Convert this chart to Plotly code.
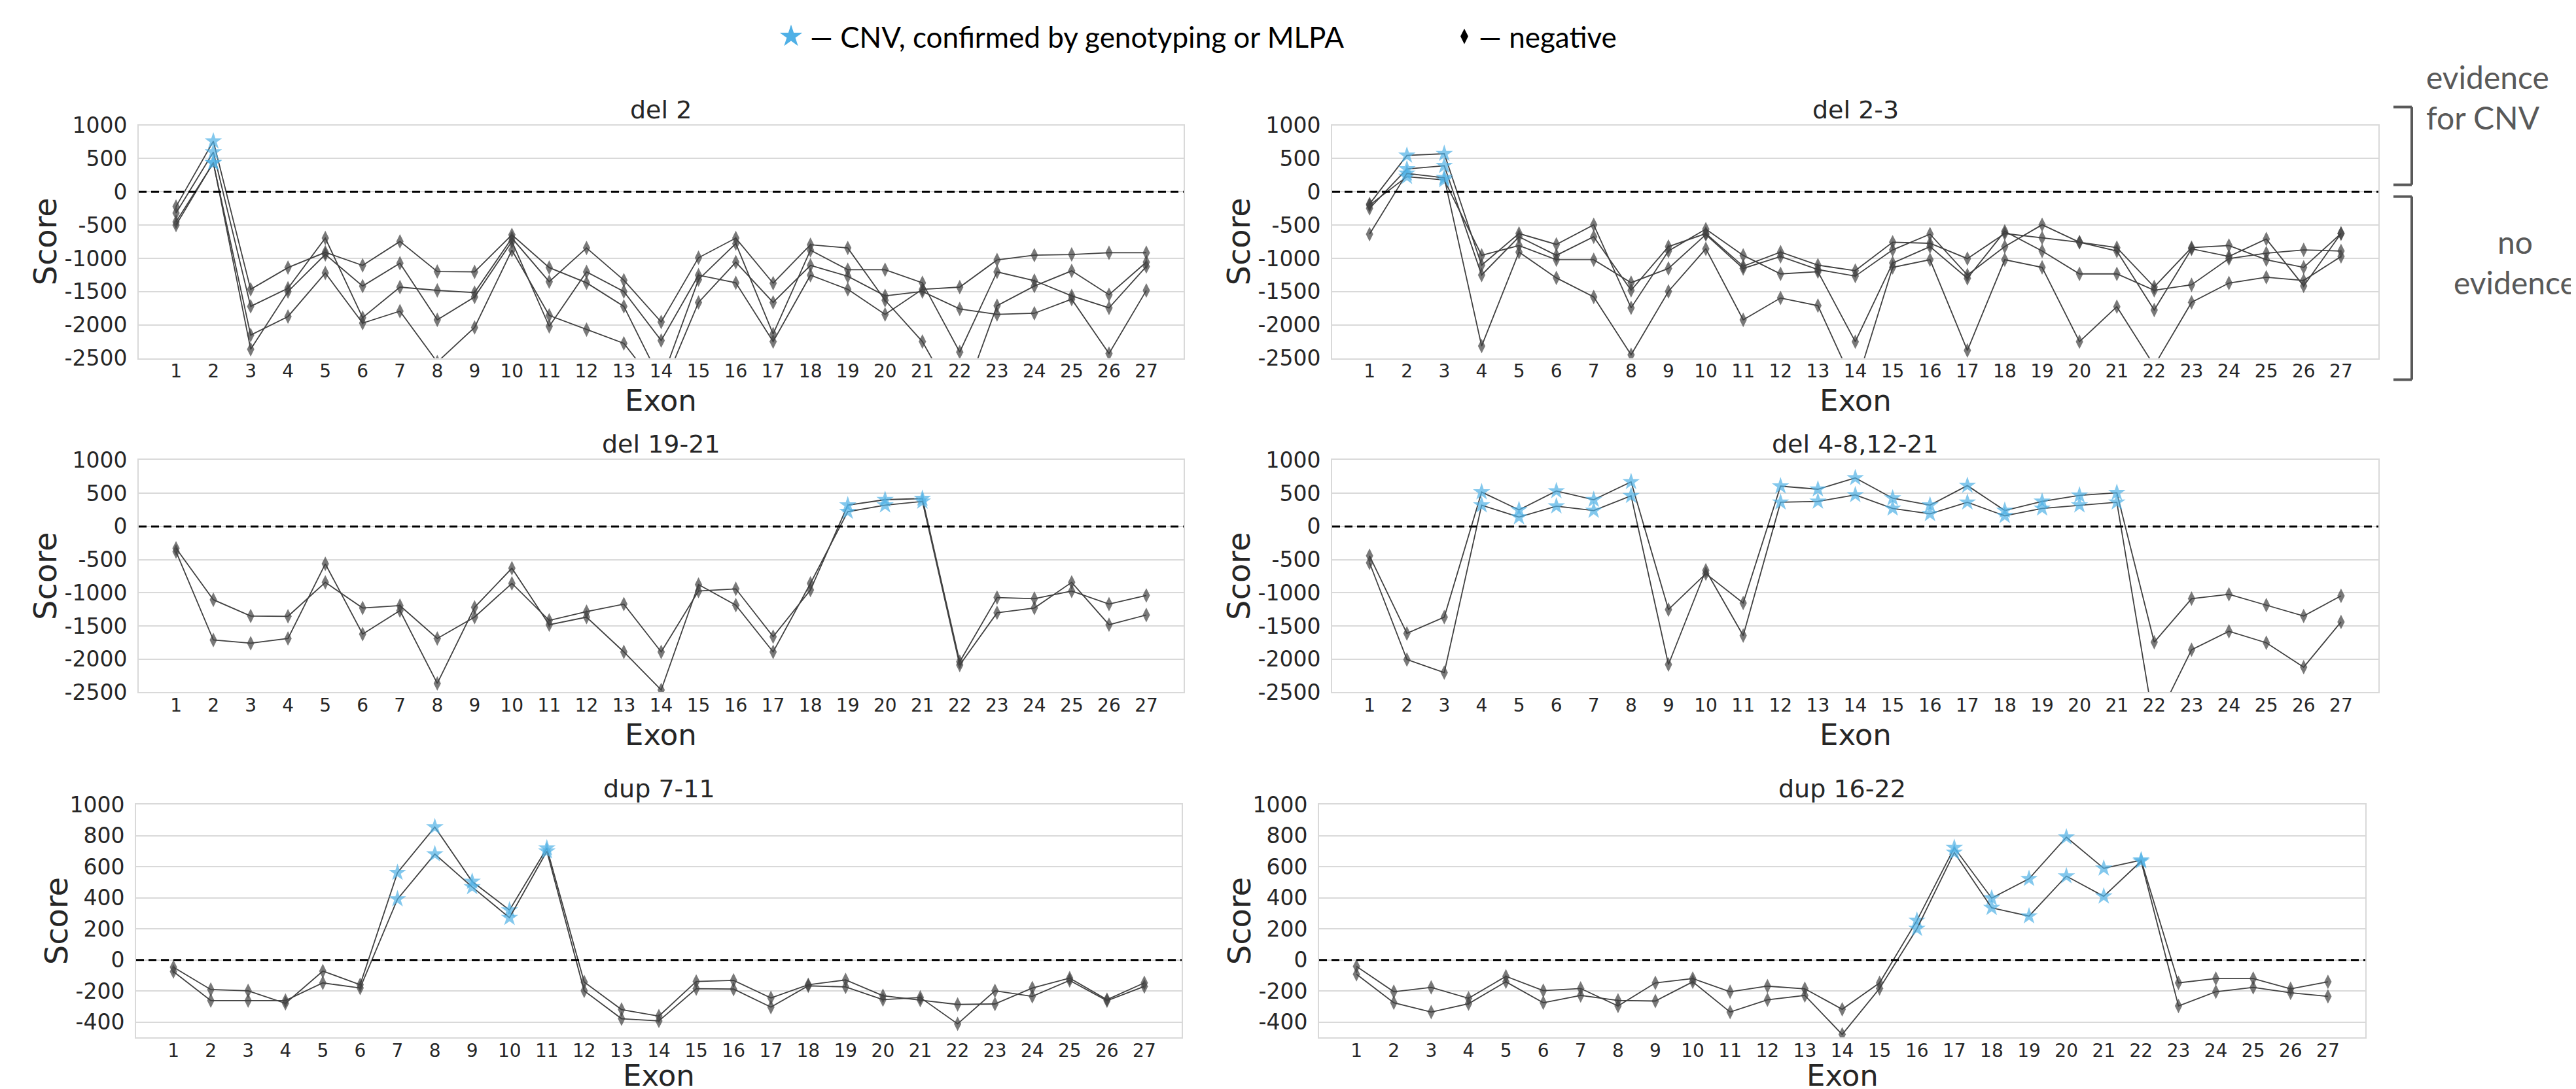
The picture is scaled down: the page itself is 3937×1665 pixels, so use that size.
import plotly.graph_objects as go

W, H = 3937, 1665

# ---------------- data ----------------
exons = list(range(1, 28))
exon_labels = [str(e) for e in exons]

# del 2 (4 samples)
del2_s1 = [-222, 761, -1466, -1139, -910, -1106, -746, -1198, -1204, -647, -1139, -1368, -1722, -2850, -1319, -778, -2138, -877, -1171, -1171, -1368, -2409, -1204, -1335, -1564, -1745, -1122]
del2_s2 = [-320, 597, -1722, -1450, -696, -1892, -1433, -1482, -1515, -696, -1351, -844, -1329, -1957, -991, -696, -1374, -795, -844, -1630, -2252, -3250, -1712, -1417, -1188, -1548, -1057]
del2_s3 = [-451, 433, -2154, -1875, -1220, -1974, -1794, -2560, -2039, -877, -1859, -2072, -2278, -3000, -1663, -1057, -1663, -1106, -1270, -1564, -1499, -1761, -1843, -1826, -1614, -2432, -1483]
del2_s4 = [-500, 440, -2367, -1499, -942, -1417, -1073, -1924, -1581, -746, -2023, -1204, -1499, -2236, -1253, -1368, -2252, -1253, -1466, -1843, -1466, -1433, -1024, -952, -942, -916, -916]
cnv_del2 = [2]

# del 2-3 (4 samples)
del23_s1 = [-183, 547, 573, -1103, -627, -791, -495, -1744, -890, -561, -955, -1234, -1201, -2253, -1070, -824, -1300, -594, -890, -1234, -1234, -1481, -1398, -1004, -922, -873, -890]
del23_s2 = [-249, 343, 392, -1251, -676, -955, -676, -1481, -824, -627, -1119, -906, -1103, -1185, -758, -774, -1004, -627, -692, -758, -890, -1777, -857, -972, -709, -1415, -627]
del23_s3 = [-200, 228, 178, -955, -807, -1021, -1021, -1366, -1152, -643, -1152, -972, -1169, -1267, -873, -636, -1251, -824, -495, -758, -840, -1431, -840, -807, -1021, -1136, -627]
del23_s4 = [-636, 277, 211, -2319, -906, -1294, -1580, -2450, -1497, -857, -1925, -1596, -1711, -2940, -1136, -1021, -2385, -1021, -1136, -2253, -1727, -2615, -1662, -1372, -1284, -1333, -972]
cnv_del23 = [2, 3]

# del 19-21 (2 samples)
del1921_s1 = [-330, -1105, -1351, -1355, -843, -1230, -1194, -1690, -1367, -859, -1417, -1285, -1171, -1892, -974, -941, -1662, -958, 321, 403, 420, -2040, -1072, -1089, -974, -1171, -1040]
del1921_s2 = [-380, -1712, -1761, -1689, -564, -1623, -1269, -2367, -1220, -630, -1482, -1367, -1892, -2466, -876, -1187, -1892, -859, 223, 321, 377, -2089, -1302, -1230, -843, -1482, -1335]
cnv_del1921 = [19, 20, 21]

# del 4-8,12-21 (2 samples)
del48_s1 = [-443, -1613, -1367, 518, 250, 534, 403, 672, -1253, -712, -1154, 607, 561, 731, 426, 321, 616, 240, 377, 469, 508, -1745, -1089, -1023, -1187, -1351, -1046]
del48_s2 = [-548, -2007, -2204, 321, 140, 305, 239, 462, -2082, -662, -1646, 364, 377, 475, 272, 190, 364, 160, 272, 321, 364, -3000, -1859, -1581, -1754, -2122, -1440]
cnv_del48 = [4, 5, 6, 7, 8, 12, 13, 14, 15, 16, 17, 18, 19, 20, 21]

# dup 7-11 (2 samples)
dup711_s1 = [-47, -191, -199, -280, -72, -160, 562, 856, 505, 321, 720, -143, -320, -362, -139, -132, -245, -160, -129, -231, -259, -287, -284, -181, -117, -256, -148]
dup711_s2 = [-75, -262, -262, -262, -148, -181, 392, 682, 470, 272, 700, -199, -379, -393, -185, -188, -304, -167, -174, -256, -242, -412, -199, -235, -132, -263, -171]
cnv_dup711 = [7, 8, 9, 10, 11]

# dup 16-22 (2 samples)
dup1622_s1 = [-42, -205, -177, -247, -106, -198, -184, -297, -148, -120, -205, -169, -186, -318, -148, 254, 723, 398, 523, 791, 590, 643, -148, -120, -120, -186, -141]
dup1622_s2 = [-92, -276, -336, -282, -141, -276, -229, -261, -265, -141, -336, -257, -229, -480, -184, 201, 692, 336, 282, 540, 410, 636, -297, -205, -177, -212, -235]
cnv_dup1622 = [16, 17, 18, 19, 20, 21, 22]

y_ticks_del = [-2500, -2000, -1500, -1000, -500, 0, 500, 1000]
y_ticks_dup = [-400, -200, 0, 200, 400, 600, 800, 1000]

legend_labels = ["— CNV, confirmed by genotyping or MLPA", "— negative"]

# ---------------- style / layout constants ----------------
GRID = "#d9d9d9"
LINE = "#404040"
DIAMOND = "#404040"
STAR = "#4FB0E6"
TEXT = "#262626"
NOTE = "#595959"
FONT = "DejaVu Sans"
NOTE_FONT = "Lato"


def vy(r):
    """map a vertical position measured on the reference to page pixels"""
    return r / 0.9768 - 27


# (title, series, cnv exons, y range, y ticks, (left, right, top, bottom) px on reference, score offset, exon offset)
panels = [
    ("del 2", [del2_s1, del2_s2, del2_s3, del2_s4], cnv_del2, [-2500, 1000], y_ticks_del, (204, 1801, 191, 547), 143, 65),
    ("del 2-3", [del23_s1, del23_s2, del23_s3, del23_s4], cnv_del23, [-2500, 1000], y_ticks_del, (2028, 3627, 191, 547), 143, 65),
    ("del 19-21", [del1921_s1, del1921_s2], cnv_del1921, [-2500, 1000], y_ticks_del, (204, 1801, 703, 1058), 143, 65),
    ("del 4-8,12-21", [del48_s1, del48_s2], cnv_del48, [-2500, 1000], y_ticks_del, (2028, 3627, 703, 1058), 143, 65),
    ("dup 7-11", [dup711_s1, dup711_s2], cnv_dup711, [-500, 1000], y_ticks_dup, (200, 1798, 1230, 1586), 122, 58),
    ("dup 16-22", [dup1622_s1, dup1622_s2], cnv_dup1622, [-500, 1000], y_ticks_dup, (2008, 3607, 1230, 1586), 122, 58),
]


def px_x(x):
    return x / W


def px_y(y):
    return 1 - y / H


fig = go.Figure()
annotations = []
shapes = []
layout_axes = {}

for i, (title, series, cnv, yr, yt, box, score_off, exon_off) in enumerate(panels, start=1):
    suffix = "" if i == 1 else str(i)
    xa, ya = "x" + suffix, "y" + suffix
    symbols = ["star" if e in cnv else "diamond-tall" for e in exons]
    colors = [STAR if e in cnv else DIAMOND for e in exons]
    sizes = [20 if e in cnv else 16 for e in exons]
    for s in series:
        fig.add_trace(go.Scatter(
            x=exons, y=s, xaxis=xa, yaxis=ya, mode="lines+markers",
            line=dict(color=LINE, width=1.8),
            marker=dict(symbol=symbols, color=colors, size=sizes, line=dict(width=0)),
            showlegend=False, hoverinfo="skip"))
    l, r, t_ref, b_ref = box
    t, b = vy(t_ref), vy(b_ref)
    layout_axes["xaxis" + suffix] = dict(
        domain=[px_x(l), px_x(r)], range=[0, 28], anchor=ya,
        tickmode="array", tickvals=exons, ticktext=exon_labels,
        showgrid=False, zeroline=False, showline=True, mirror=True,
        linecolor=GRID, linewidth=2, ticks="", ticklabelstandoff=-6,
        tickfont=dict(family=FONT, size=28, color=TEXT))
    layout_axes["yaxis" + suffix] = dict(
        domain=[px_y(b), px_y(t)], range=yr, anchor=xa,
        tickmode="array", tickvals=yt, ticktext=[str(v) for v in yt],
        showgrid=True, gridcolor=GRID, gridwidth=2, zeroline=False,
        showline=True, mirror=True, linecolor=GRID, linewidth=2,
        ticks="", ticklabelstandoff=9,
        tickfont=dict(family=FONT, size=33, color=TEXT))
    # zero reference line across the plot width
    shapes.append(dict(type="line", xref=xa, yref=ya, x0=0, x1=28, y0=0, y1=0,
                       line=dict(color="black", width=3, dash="12px,7px"), layer="above"))
    # title
    annotations.append(dict(text=title, xref="paper", yref="paper", x=px_x((l + r) / 2), y=px_y(t),
                            xanchor="center", yanchor="bottom", showarrow=False,
                            font=dict(family=FONT, size=38, color=TEXT)))
    # axis titles
    annotations.append(dict(text="Score", xref="paper", yref="paper", x=px_x(l - score_off),
                            y=px_y((t + b) / 2), textangle=-90, xanchor="center", yanchor="middle",
                            showarrow=False, font=dict(family=FONT, size=48, color=TEXT)))
    annotations.append(dict(text="Exon", xref="paper", yref="paper", x=px_x((l + r) / 2),
                            y=px_y(vy(b_ref + exon_off)), xanchor="center", yanchor="middle",
                            showarrow=False, font=dict(family=FONT, size=45, color=TEXT)))

# ---------------- legend (manual, on an invisible full-figure axis) ----------------
legend_row = vy(55)
legend_key_x = [1201, 2230]
legend_key_y = [legend_row, legend_row]
fig.add_trace(go.Scatter(x=[legend_key_x[0]], y=[legend_key_y[0]], xaxis="x7", yaxis="y7", mode="markers",
                         marker=dict(symbol="star", color=STAR, size=26, line=dict(width=0)),
                         showlegend=False, hoverinfo="skip"))
fig.add_trace(go.Scatter(x=[legend_key_x[1]], y=[legend_key_y[1]], xaxis="x7", yaxis="y7", mode="markers",
                         marker=dict(symbol="diamond-tall", color="black", size=17, line=dict(width=0)),
                         showlegend=False, hoverinfo="skip"))
layout_axes["xaxis7"] = dict(domain=[0, 1], range=[0, W], visible=False, anchor="y7", fixedrange=True)
layout_axes["yaxis7"] = dict(domain=[0, 1], range=[H, 0], visible=False, anchor="x7", fixedrange=True)

annotations.append(dict(text=legend_labels[0], xref="paper", yref="paper", x=px_x(1228), y=px_y(legend_row),
                        xanchor="left", yanchor="middle", showarrow=False,
                        font=dict(family=NOTE_FONT, size=44, color="black")))
annotations.append(dict(text=legend_labels[1], xref="paper", yref="paper", x=px_x(2250), y=px_y(legend_row),
                        xanchor="left", yanchor="middle", showarrow=False,
                        font=dict(family=NOTE_FONT, size=44, color="black")))

# ---------------- right-hand notes and brackets ----------------
annotations.append(dict(text="evidence<br>for CNV", xref="paper", yref="paper", x=px_x(3698), y=px_y(vy(148)),
                        xanchor="left", yanchor="middle", align="left", showarrow=False,
                        font=dict(family=NOTE_FONT, size=48, color=NOTE)))
annotations.append(dict(text="no<br>evidence", xref="paper", yref="paper", x=px_x(3836), y=px_y(vy(400)),
                        xanchor="center", yanchor="middle", align="center", showarrow=False,
                        font=dict(family=NOTE_FONT, size=48, color=NOTE)))

bracket_spans = [(163, 282), (300, 580)]
for top_ref, bottom_ref in bracket_spans:
    top, bottom = vy(top_ref), vy(bottom_ref)
    for (xa0, ya0, xa1, ya1) in [(3650, top, 3678, top), (3678, top, 3678, bottom), (3650, bottom, 3678, bottom)]:
        shapes.append(dict(type="line", xref="paper", yref="paper",
                           x0=px_x(xa0), y0=px_y(ya0), x1=px_x(xa1), y1=px_y(ya1),
                           line=dict(color=NOTE, width=4), layer="above"))

fig.update_layout(
    width=W, height=H,
    margin=dict(l=0, r=0, t=0, b=0),
    paper_bgcolor="white", plot_bgcolor="rgba(0,0,0,0)",
    showlegend=False,
    annotations=annotations, shapes=shapes,
    **layout_axes)

fig.write_html("out.html")
